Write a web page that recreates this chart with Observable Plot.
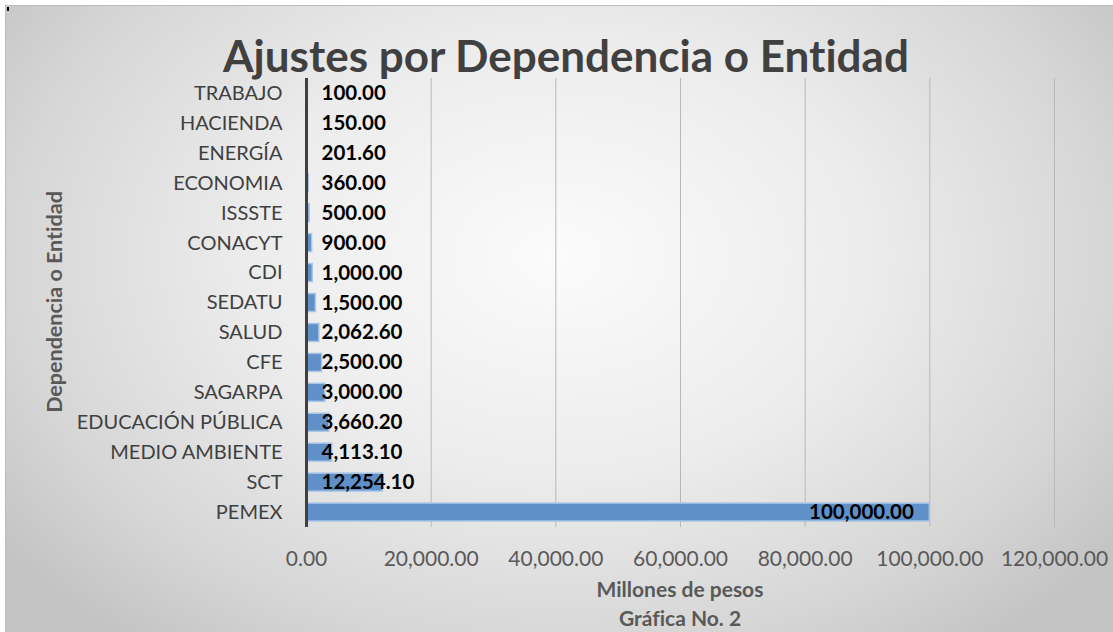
<!DOCTYPE html>
<html>
<head>
<meta charset="utf-8">
<script src="https://cdn.jsdelivr.net/npm/d3@7"></script>
<script src="https://cdn.jsdelivr.net/npm/@observablehq/plot@0.6"></script>
<style>
  html, body { margin: 0; padding: 0; background: #ffffff; }
  #wrap { position: relative; width: 1113px; height: 632px; overflow: hidden; font-family: Lato, "Open Sans", sans-serif; font-variant-ligatures: none; }
  #frame { position: absolute; left: 5px; top: 5px; width: 1108px; height: 627px;
    border-top: 1px solid #bdbdbd; border-left: 1px solid #bdbdbd; box-sizing: border-box;
    background: radial-gradient(ellipse 62% 78% at 50% 40%, #fbfbfb 0%, #ececec 45%, #d6d6d6 80%, #c4c4c4 100%); }
  #chart { position: absolute; left: 0; top: 0; }
  #chart svg text { font-variant-ligatures: none; }
  .t { position: absolute; white-space: nowrap; font-weight: 700; line-height: 1; }
  #title { left: 566px; top: 55px; transform: translate(-50%, -50%); font-size: 44px; color: #404040; }
  #xlab { left: 680px; top: 588px; transform: translate(-50%, -50%); font-size: 21px; color: #595959; }
  #cap { left: 680px; top: 617px; transform: translate(-50%, -50%); font-size: 21px; color: #595959; }
  #ylab { left: 55px; top: 302px; transform: translate(-50%, -50%) rotate(-90deg); font-size: 21.5px; color: #595959; }
  .mark { position: absolute; left: 7px; top: 7px; width: 2px; height: 4px; background: #000; }
</style>
</head>
<body>
<div id="wrap">
  <div id="frame"></div>
  <div class="mark"></div>
  <div id="chart"></div>
  <div class="t" id="title">Ajustes por Dependencia o Entidad</div>
  <div class="t" id="ylab">Dependencia o Entidad</div>
  <div class="t" id="xlab">Millones de pesos</div>
  <div class="t" id="cap">Gráfica No. 2</div>
</div>
<script>
const categories = ["TRABAJO","HACIENDA","ENERGÍA","ECONOMIA","ISSSTE","CONACYT","CDI","SEDATU","SALUD","CFE","SAGARPA","EDUCACIÓN PÚBLICA","MEDIO AMBIENTE","SCT","PEMEX"];
const values = [100, 150, 201.6, 360, 500, 900, 1000, 1500, 2062.6, 2500, 3000, 3660.2, 4113.1, 12254.1, 100000];
const xTicks = [0, 20000, 40000, 60000, 80000, 100000, 120000];

const data = categories.map((c, i) => ({cat: c, value: values[i]}));
const fmt = d3.format(",.2f");
const big = d => d.value > 50000;

const chart = Plot.plot({
  width: 1113,
  height: 632,
  marginLeft: 306,
  marginRight: 59,
  marginTop: 78,
  marginBottom: 105,
  style: { background: "transparent", fontFamily: "Lato, 'Open Sans', sans-serif", overflow: "visible" },
  x: { domain: [0, 120000], label: null },
  y: { domain: categories, paddingInner: 0.4, paddingOuter: 0.2, round: false, label: null },
  marks: [
    Plot.ruleX(xTicks.slice(1), { stroke: "#b8b8b8", strokeWidth: 1 }),
    Plot.barX(data, { x: "value", y: "cat", fill: "#6090c8", stroke: "#a8c5e8", strokeWidth: 1.5 }),
    Plot.ruleX([0], { stroke: "#404040", strokeWidth: 3 }),
    Plot.axisX({ ticks: xTicks, tickFormat: fmt, tickSize: 0, tickPadding: 24, fontSize: 21, fill: "#595959", label: null }),
    Plot.axisY({ tickSize: 0, tickPadding: 24, fontSize: 20, fill: "#404040", label: null }),
    Plot.text(data.filter(d => !big(d)), { x: () => 0, y: "cat", text: d => fmt(d.value), textAnchor: "start", dx: 15, fontSize: 20.5, fontWeight: 700, fill: "#000" }),
    Plot.text(data.filter(big), { x: "value", y: "cat", text: d => fmt(d.value), textAnchor: "end", dx: -16, fontSize: 20.5, fontWeight: 700, fill: "#000" })
  ]
});
document.getElementById("chart").appendChild(chart);
</script>
</body>
</html>
